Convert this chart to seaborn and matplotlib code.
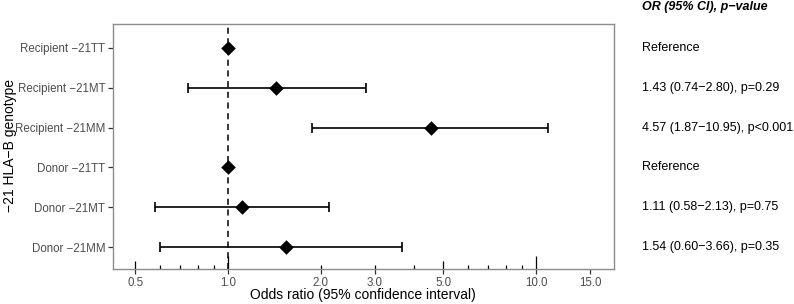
import numpy as np
import pandas as pd
import matplotlib
matplotlib.use('Agg')
import matplotlib.pyplot as plt
import matplotlib.transforms as mtransforms
import seaborn as sns

# data
genotypes = ['Recipient \u221221TT', 'Recipient \u221221MT', 'Recipient \u221221MM',
             'Donor \u221221TT', 'Donor \u221221MT', 'Donor \u221221MM']
odds_ratio = [1.0, 1.43, 4.57, 1.0, 1.11, 1.54]
ci_low = [np.nan, 0.74, 1.87, np.nan, 0.58, 0.60]
ci_high = [np.nan, 2.80, 10.95, np.nan, 2.13, 3.66]
summary = ['Reference', '1.43 (0.74\u22122.80), p=0.29', '4.57 (1.87\u221210.95), p<0.001',
           'Reference', '1.11 (0.58\u22122.13), p=0.75', '1.54 (0.60\u22123.66), p=0.35']
x_breaks = [0.5, 1.0, 2.0, 3.0, 5.0, 10.0, 15.0]
log_long = [1, 10]
log_mid = [0.5, 5]
log_short = [0.6, 0.7, 0.8, 0.9, 2, 3, 4, 6, 7, 8, 9]

df = pd.DataFrame({'genotype': genotypes, 'OR': odds_ratio,
                   'lo': ci_low, 'hi': ci_high, 'label': summary})
df['pos'] = np.arange(len(df))

sns.set_theme(style='white')
plt.rcParams['font.family'] = ['Liberation Sans', 'DejaVu Sans']

W, H = 794, 304
fig = plt.figure(figsize=(W / 100, H / 100), dpi=100)
ax = fig.add_axes([113 / W, 1 - 269 / H, 501 / W, 245 / H])

ci = df.dropna()
ax.errorbar(ci['OR'], ci['pos'], xerr=[ci['OR'] - ci['lo'], ci['hi'] - ci['OR']],
            fmt='none', ecolor='black', elinewidth=1.2, capsize=3.5, capthick=1.2, zorder=2)
ax.axvline(1.0, color='black', linestyle=(0, (4, 3)), linewidth=1.1, zorder=1)
sns.scatterplot(data=df, x='OR', y='pos', marker='D', s=55, color='black',
                edgecolor='black', linewidth=0, ax=ax, zorder=3)

ax.set_xscale('log')
ax.set_xlim(0.423, 17.9)
ax.set_ylim(len(df) - 0.45, -0.6)
ax.set_xticks(x_breaks)
ax.set_xticklabels(['%.1f' % v for v in x_breaks])
ax.xaxis.set_minor_locator(matplotlib.ticker.NullLocator())
ax.set_yticks(df['pos'])
ax.set_yticklabels(df['genotype'])
ax.tick_params(axis='both', which='major', direction='out', length=3.5, width=0.9,
               color='#333333', labelsize=8.3, labelcolor='#4D4D4D', pad=2,
               bottom=True, left=True)

# log ticks drawn inside the panel
ax_h = ax.get_position().height * fig.get_figheight() * fig.dpi
trans = ax.get_xaxis_transform()
for vals, px in [(log_long, 13), (log_mid, 8), (log_short, 4)]:
    ax.vlines(vals, 0, px / ax_h, transform=trans, color='black', linewidth=0.9, zorder=1)

for sp in ax.spines.values():
    sp.set_color('#8C8C8C')
    sp.set_linewidth(1.0)

ax.set_xlabel('')
ax.set_ylabel('')
fig.text(363 / W, 1 - 295 / H, 'Odds ratio (95% confidence interval)', ha='center',
         va='center', fontsize=10, color='black')
fig.text(10 / W, 1 - 145 / H, '\u221221 HLA\u2212B genotype', ha='center', va='center',
         rotation=90, fontsize=10, color='black')

tr = mtransforms.blended_transform_factory(fig.transFigure, ax.transData)
for _, row in df.iterrows():
    ax.text(642 / W, row['pos'], row['label'], transform=tr, ha='left', va='center',
            fontsize=9, color='black', clip_on=False)
fig.text(642 / W, 1 - 7 / H, 'OR (95% CI), p\u2212value', ha='left', va='center',
         fontsize=9, fontweight='bold', fontstyle='italic', color='black')

fig.savefig('out.png', dpi=100)
